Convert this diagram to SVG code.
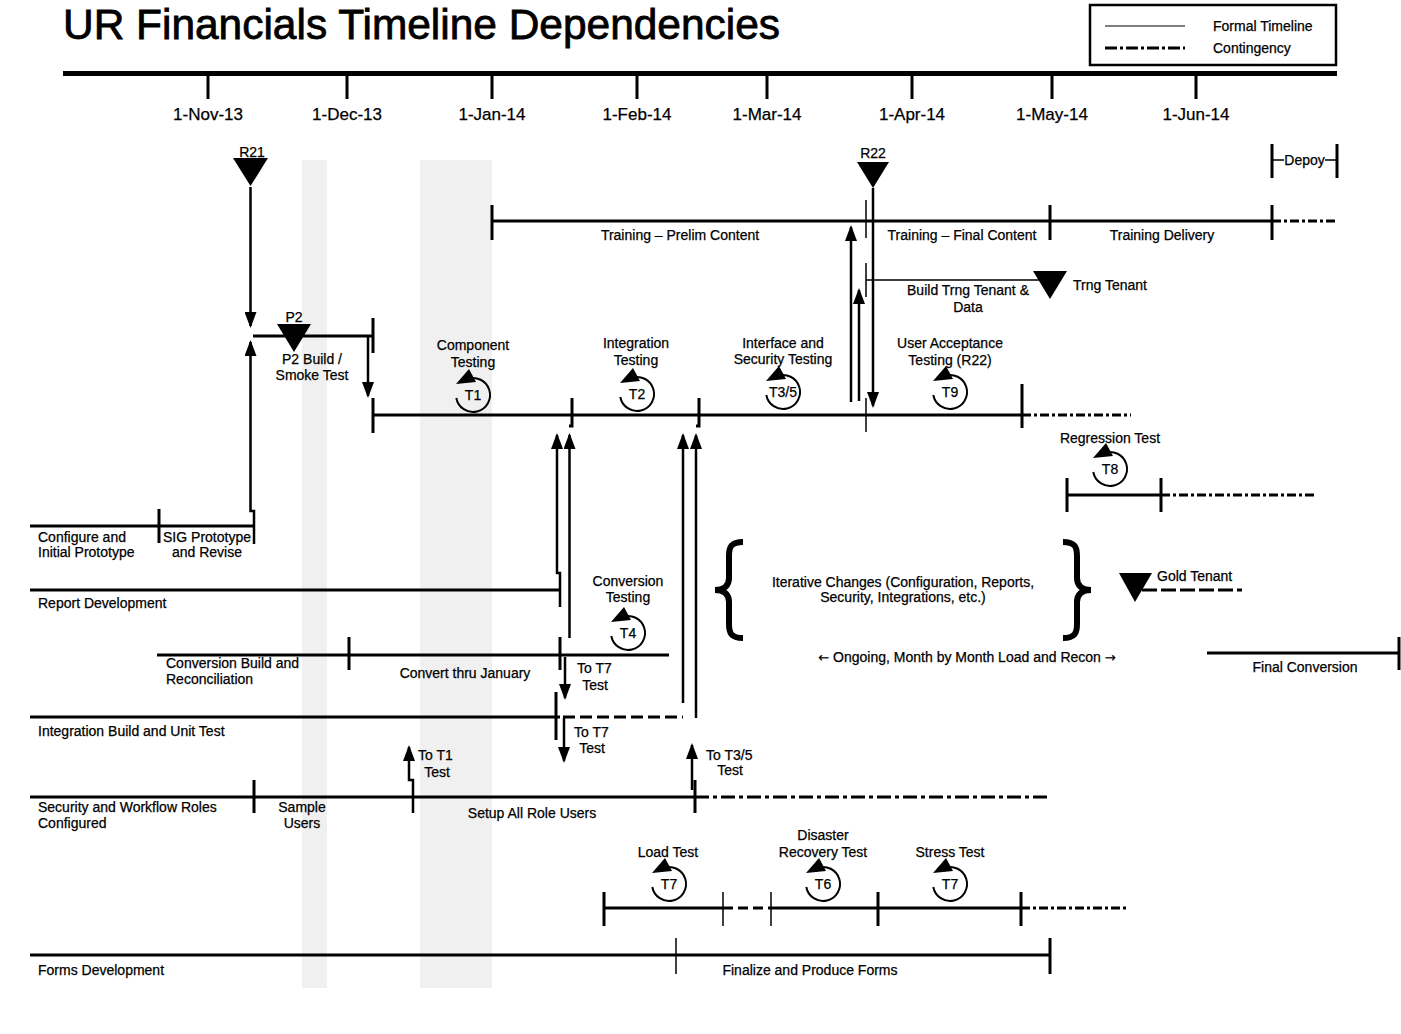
<svg xmlns="http://www.w3.org/2000/svg" width="1401" height="1034" viewBox="0 0 1401 1034">
<style>
text{font-family:"Liberation Sans",Arial,sans-serif;font-size:14px;fill:#000;stroke:#000;stroke-width:0.25}
.c{text-anchor:middle}
.ax{font-size:17px}
.ttl{font-size:42px;stroke-width:0.8}
.arw{font-family:"DejaVu Sans",sans-serif;font-size:13px}
.ln{stroke:#000;stroke-width:3;fill:none}
.tk{stroke:#000;stroke-width:3;fill:none}
.tn{stroke:#000;stroke-width:1.5;fill:none}
.cn{stroke:#000;stroke-width:2.5;fill:none;marker-end:url(#ah)}
.dd{stroke:#000;stroke-width:3;stroke-dasharray:9,3,3,3;fill:none}
.ds{stroke:#000;stroke-width:3;stroke-dasharray:12,5;fill:none}
.band{fill:#f0f0f0}
.br{stroke:#000;stroke-width:6;fill:none}
</style>
<defs>
<marker id="ah" viewBox="0 0 16 12" markerWidth="16" markerHeight="12" refX="14" refY="6" orient="auto" markerUnits="userSpaceOnUse"><path d="M0,0 L16,6 L0,12 Z" fill="#000"/></marker>
<g id="cyc"><path d="M-5.8,-16 A17,17 0 1 1 -16.7,3" fill="none" stroke="#000" stroke-width="2"/><polygon points="-4,-26 -17,-11 3,-13" fill="#000"/></g>
<path id="brace" class="br" d="M743,542 C731,542 729,547 729,556 L729,578 C729,586 724,590 715,590 C724,590 729,594 729,602 L729,624 C729,633 731,638 743,638"/>
</defs>

<g id="bands">
<rect class="band" x="302" y="160" width="25" height="828"/>
<rect class="band" x="420" y="160" width="72" height="828"/>
</g>

<g id="title"><text class="ttl" x="63" y="39" textLength="717" lengthAdjust="spacingAndGlyphs">UR Financials Timeline Dependencies</text></g>

<g id="legend">
<rect x="1090" y="5" width="246" height="60" fill="none" stroke="#000" stroke-width="2.5"/>
<line x1="1105" y1="26" x2="1185" y2="26" stroke="#000" stroke-width="1"/>
<line x1="1105" y1="48" x2="1185" y2="48" stroke="#000" stroke-width="3" stroke-dasharray="12,3,3,3"/>
<text x="1213" y="31">Formal Timeline</text>
<text x="1213" y="53">Contingency</text>
</g>

<g id="axis">
<line x1="63" y1="73.5" x2="1337" y2="73.5" stroke="#000" stroke-width="5"/>
<path class="tk" d="M208,76V99 M347,76V99 M492,76V99 M637,76V99 M767,76V99 M912,76V99 M1052,76V99 M1196,76V99"/>
<text class="c ax" x="208" y="120">1-Nov-13</text>
<text class="c ax" x="347" y="120">1-Dec-13</text>
<text class="c ax" x="492" y="120">1-Jan-14</text>
<text class="c ax" x="637" y="120">1-Feb-14</text>
<text class="c ax" x="767" y="120">1-Mar-14</text>
<text class="c ax" x="912" y="120">1-Apr-14</text>
<text class="c ax" x="1052" y="120">1-May-14</text>
<text class="c ax" x="1196" y="120">1-Jun-14</text>
</g>

<g id="r21">
<polygon points="233,158 268,158 250.5,186" fill="#000"/>
<text class="c" x="252" y="157">R21</text>
</g>

<g id="r22">
<polygon points="857,162 889,162 873,188" fill="#000"/>
<text class="c" x="873" y="158">R22</text>
</g>

<g id="depoy">
<path class="tk" d="M1272,144V178 M1337,144V178"/>
<path class="tn" d="M1272,160H1284 M1325,160H1337"/>
<text class="c" x="1304.5" y="165">Depoy</text>
</g>

<g id="training">
<line class="ln" x1="492" y1="221" x2="1272" y2="221"/>
<line class="dd" x1="1272" y1="221" x2="1337" y2="221"/>
<path class="tk" d="M492,205V240 M1050,205V240 M1272,205V240"/>
<path class="tn" d="M866,200V238"/>
<text class="c" x="680" y="240">Training – Prelim Content</text>
<text class="c" x="962" y="240">Training – Final Content</text>
<text class="c" x="1162" y="240">Training Delivery</text>
</g>

<g id="trng-tenant">
<path class="tn" d="M866,263V297 M866,280H1040"/>
<polygon points="1033,271 1067,271 1050,299" fill="#000"/>
<text x="1073" y="290">Trng Tenant</text>
<text class="c" x="968" y="295">Build Trng Tenant &amp;</text>
<text class="c" x="968" y="312">Data</text>
</g>

<g id="p2">
<line class="ln" x1="253" y1="336" x2="373" y2="336"/>
<path class="tk" d="M373,318V353"/>
<polygon points="277,324 311,324 294,352" fill="#000"/>
<text class="c" x="294" y="322">P2</text>
<text class="c" x="312" y="364">P2 Build /</text>
<text class="c" x="312" y="380">Smoke Test</text>
</g>

<g id="testing">
<line class="ln" x1="373" y1="415" x2="1022" y2="415"/>
<line class="dd" x1="1022" y1="415" x2="1131" y2="415"/>
<path class="tk" d="M373,398V433 M572,398V426H569 M699,398V426H696 M1022,384V428"/>
<path class="tn" d="M866,398V432"/>
</g>

<g id="t1">
<text class="c" x="473" y="350">Component</text>
<text class="c" x="473" y="367">Testing</text>
<use href="#cyc" x="473" y="395"/>
<text class="c" x="473" y="400">T1</text>
</g>
<g id="t2">
<text class="c" x="636" y="348">Integration</text>
<text class="c" x="636" y="365">Testing</text>
<use href="#cyc" x="637" y="394"/>
<text class="c" x="637" y="399">T2</text>
</g>
<g id="t35">
<text class="c" x="783" y="348">Interface and</text>
<text class="c" x="783" y="364">Security Testing</text>
<use href="#cyc" x="783" y="392"/>
<text class="c" x="783" y="397">T3/5</text>
</g>
<g id="t9">
<text class="c" x="950" y="348">User Acceptance</text>
<text class="c" x="950" y="365">Testing (R22)</text>
<use href="#cyc" x="950" y="392"/>
<text class="c" x="950" y="397">T9</text>
</g>

<g id="regression">
<text class="c" x="1110" y="443">Regression Test</text>
<use href="#cyc" x="1110" y="469"/>
<text class="c" x="1110" y="474">T8</text>
<line class="ln" x1="1067" y1="495" x2="1161" y2="495"/>
<line class="dd" x1="1161" y1="495" x2="1317" y2="495"/>
<path class="tk" d="M1067,478V512 M1161,478V512"/>
</g>

<g id="configure">
<line class="ln" x1="30" y1="526" x2="254" y2="526"/>
<path class="tk" d="M159,509V543"/>
<text x="38" y="542">Configure and</text>
<text x="38" y="557">Initial Prototype</text>
<text class="c" x="207" y="542">SIG Prototype</text>
<text class="c" x="207" y="557">and Revise</text>
</g>

<g id="report">
<line class="ln" x1="30" y1="590" x2="560" y2="590"/>
<text x="38" y="608">Report Development</text>
</g>

<g id="iterative">
<use href="#brace"/>
<use href="#brace" transform="translate(1806,0) scale(-1,1)"/>
<text class="c" x="903" y="587">Iterative Changes (Configuration, Reports,</text>
<text class="c" x="903" y="602">Security, Integrations, etc.)</text>
<text class="c" x="967" y="662"><tspan class="arw">←</tspan> Ongoing, Month by Month Load and Recon <tspan class="arw">→</tspan></text>
</g>

<g id="gold-tenant">
<polygon points="1119,573 1152,573 1135,602" fill="#000"/>
<line x1="1142" y1="590" x2="1242" y2="590" stroke="#000" stroke-width="3" stroke-dasharray="15,4"/>
<text x="1157" y="581">Gold Tenant</text>
</g>

<g id="final-conversion">
<line class="ln" x1="1207" y1="653" x2="1399" y2="653"/>
<path class="tk" d="M1399,637V670"/>
<text class="c" x="1305" y="672">Final Conversion</text>
</g>

<g id="conversion">
<line class="ln" x1="157" y1="655" x2="669" y2="655"/>
<path class="tk" d="M349,637V670 M560,637V670"/>
<text x="166" y="668">Conversion Build and</text>
<text x="166" y="684">Reconciliation</text>
<text class="c" x="465" y="678">Convert thru January</text>
</g>

<g id="t4">
<text class="c" x="628" y="586">Conversion</text>
<text class="c" x="628" y="602">Testing</text>
<use href="#cyc" x="628" y="633"/>
<text class="c" x="628" y="638">T4</text>
</g>

<g id="integration">
<line class="ln" x1="30" y1="717" x2="560" y2="717"/>
<line class="ds" x1="563" y1="717" x2="683" y2="717"/>
<path class="tk" d="M556,692V740"/>
<text x="38" y="736">Integration Build and Unit Test</text>
</g>

<g id="security">
<line class="ln" x1="30" y1="797" x2="695" y2="797"/>
<line x1="695" y1="797" x2="1048" y2="797" stroke="#000" stroke-width="3" stroke-dasharray="14,4,4,4"/>
<path class="tk" d="M254,780V813 M695,780V813"/>
<text x="38" y="812">Security and Workflow Roles</text>
<text x="38" y="828">Configured</text>
<text class="c" x="302" y="812">Sample</text>
<text class="c" x="302" y="828">Users</text>
<text class="c" x="532" y="818">Setup All Role Users</text>
</g>

<g id="labels-to">
<text x="577" y="673">To T7</text>
<text class="c" x="595" y="690">Test</text>
<text x="574" y="737">To T7</text>
<text class="c" x="592" y="753">Test</text>
<text x="418" y="760">To T1</text>
<text class="c" x="437" y="777">Test</text>
<text x="706" y="760">To T3/5</text>
<text class="c" x="730" y="775">Test</text>
</g>

<g id="tests">
<line class="ln" x1="604" y1="908" x2="723" y2="908"/>
<line x1="723" y1="908" x2="771" y2="908" stroke="#000" stroke-width="3" stroke-dasharray="10,5"/>
<line class="ln" x1="771" y1="908" x2="1021" y2="908"/>
<line class="dd" x1="1021" y1="908" x2="1129" y2="908"/>
<path class="tk" d="M604,892V926 M878,892V926 M1021,892V926"/>
<path class="tn" d="M723,892V926 M771,892V926"/>
<text class="c" x="668" y="857">Load Test</text>
<use href="#cyc" x="669" y="884"/>
<text class="c" x="669" y="889">T7</text>
<text class="c" x="823" y="840">Disaster</text>
<text class="c" x="823" y="857">Recovery Test</text>
<use href="#cyc" x="823" y="884"/>
<text class="c" x="823" y="889">T6</text>
<text class="c" x="950" y="857">Stress Test</text>
<use href="#cyc" x="950" y="884"/>
<text class="c" x="950" y="889">T7</text>
</g>

<g id="forms">
<line class="ln" x1="30" y1="955" x2="1050" y2="955"/>
<path class="tn" d="M676,938V974"/>
<path class="tk" d="M1050,938V974"/>
<text x="38" y="975">Forms Development</text>
<text class="c" x="810" y="975">Finalize and Produce Forms</text>
</g>

<g id="connectors">
<path class="cn" stroke-width="3" d="M250.5,187V326"/>
<path class="cn" stroke-width="3" d="M254,544V511H250.5V342"/>
<path class="cn" d="M368,337V396"/>
<path class="cn" d="M560,607V573H557V435"/>
<path class="cn" d="M569.5,638V435"/>
<path class="cn" d="M683,703V435"/>
<path class="cn" d="M696,718V435"/>
<path class="cn" d="M565,657V698"/>
<path class="cn" d="M564,718V761"/>
<path class="cn" d="M413,813V780H409V747"/>
<path class="cn" d="M692,790V745"/>
<path class="cn" stroke-width="3" d="M873,188V406"/>
<path class="cn" stroke-width="1.5" d="M851,402V227"/>
<path class="cn" d="M859,401V290"/>
</g>
</svg>
